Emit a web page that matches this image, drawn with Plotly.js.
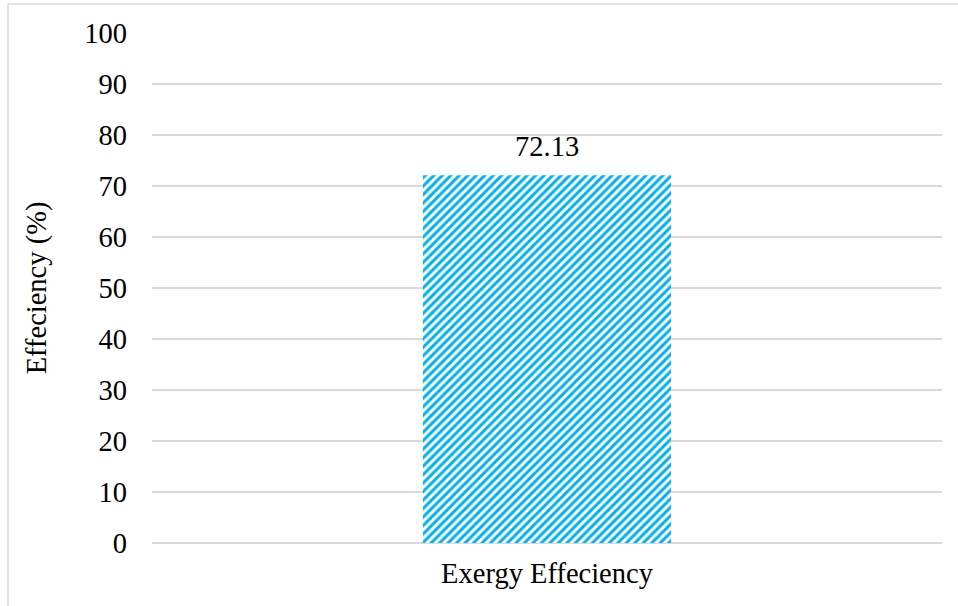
<!DOCTYPE html>
<html>
<head>
<meta charset="utf-8">
<script src="https://cdn.plot.ly/plotly-3.0.1.min.js"></script>
<style>
  html, body { margin: 0; padding: 0; background: #ffffff; }
  #chart { width: 958px; height: 606px; }
</style>
</head>
<body>
<div id="chart"></div>
<script>
// Exergy efficiency result
const categories = ["Exergy Effeciency"];
const efficiency = [72.13];
const yTicks = [0, 10, 20, 30, 40, 50, 60, 70, 80, 90, 100];

const serif = "'Liberation Serif', 'Times New Roman', serif";
const fontSize = 28.5;

const trace = {
  type: "bar",
  x: categories,
  y: efficiency,
  marker: {
    color: "#ffffff",
    line: { width: 0 },
    pattern: {
      shape: "/",
      fillmode: "replace",
      bgcolor: "#ffffff",
      fgcolor: "#00B0F0",
      size: 6,
      solidity: 0.5
    }
  },
  hoverinfo: "skip"
};

// value label above the bar
const valueLabels = categories.map((c, i) => ({
  x: c,
  y: efficiency[i],
  xref: "x",
  yref: "y",
  text: efficiency[i].toFixed(2),
  showarrow: false,
  yanchor: "bottom",
  yshift: 11,
  font: { family: serif, size: fontSize, color: "#000000" }
}));

const layout = {
  width: 958,
  height: 606,
  margin: { l: 152, r: 16, t: 33, b: 63 },
  paper_bgcolor: "#ffffff",
  plot_bgcolor: "#ffffff",
  showlegend: false,
  bargap: 0.686,
  font: { family: serif, size: fontSize, color: "#000000" },
  xaxis: {
    showgrid: false,
    zeroline: false,
    showline: false,
    ticks: "",
    ticklabelstandoff: 10,
    tickfont: { family: serif, size: fontSize, color: "#000000" }
  },
  yaxis: {
    range: [0, 100],
    tickvals: yTicks,
    ticktext: yTicks.map(String),
    showgrid: true,
    gridcolor: "#d9d9d9",
    gridwidth: 1.3,
    zeroline: true,
    zerolinecolor: "#d9d9d9",
    zerolinewidth: 1.3,
    showline: false,
    ticks: "",
    ticklabelstandoff: 24,
    tickfont: { family: serif, size: fontSize, color: "#000000" },
    title: { text: "Effeciency (%)", standoff: 29, font: { family: serif, size: fontSize, color: "#000000" } }
  },
  annotations: valueLabels,
  shapes: [
    {
      type: "path",
      xref: "paper",
      yref: "paper",
      path: "M -0.1823,-0.2 L -0.1823,1.0569 L 1.1,1.0569",
      line: { color: "#d9d9d9", width: 1.5 },
      layer: "below"
    }
  ]
};

Plotly.newPlot("chart", [trace], layout, { displayModeBar: false, staticPlot: true });
</script>
</body>
</html>
